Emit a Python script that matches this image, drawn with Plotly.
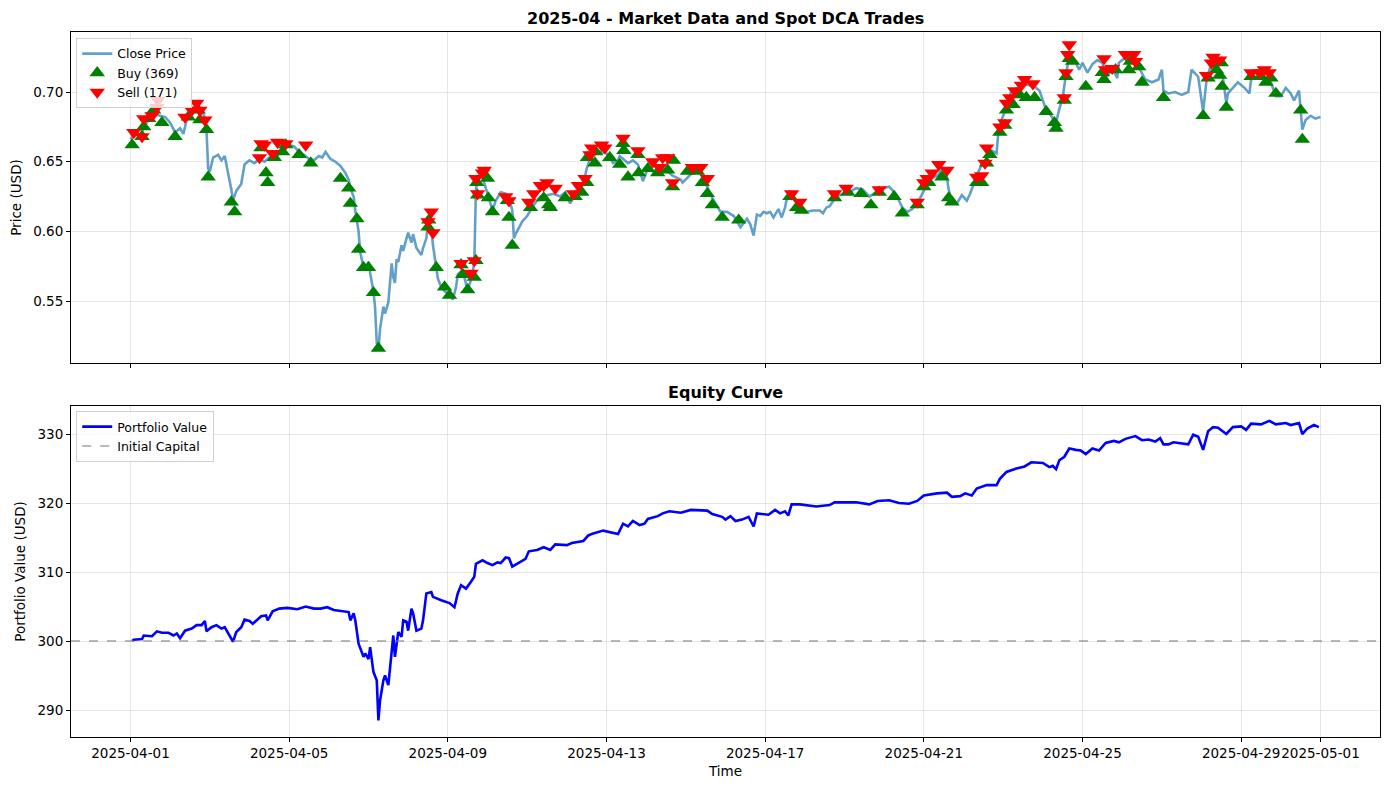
import pandas as pd
import plotly.graph_objects as go

START = pd.Timestamp("2025-04-01 00:00")

# ---- Close price (hours since 2025-04-01 00:00, price) ----
price_hours = [0, 3, 6, 9, 12, 15, 18, 21, 24, 27, 30, 32, 34, 37, 40, 43, 45, 46, 47, 48,
               50, 53, 55, 57, 59, 61, 62, 64, 67, 69, 72, 75, 78, 81, 84, 87, 90, 93, 96, 99,
               102, 105, 108, 111, 114, 116, 118, 121, 124, 127, 130, 132, 133, 135, 136, 138, 139, 141, 142, 144,
               145, 147, 148, 149, 150, 151, 153, 154, 156, 158, 159, 160, 161, 162, 164, 165, 167, 168, 170, 171,
               173, 176, 177, 179, 180, 182, 183, 185, 186, 188, 190, 193, 195, 197, 198, 200, 202, 204, 206, 208,
               209, 210, 212, 214, 216, 218, 219, 221, 224, 227, 229, 231, 232, 233, 235, 237, 240, 244, 248, 252,
               256, 260, 263, 266, 269, 272, 274, 276, 278, 281, 284, 288, 292, 295, 296, 301, 304, 307, 308, 310,
               313, 316, 320, 325, 328, 333, 334, 339, 343, 346, 349, 352, 357, 361, 365, 369, 373, 375, 377, 379,
               381, 383, 385, 387, 389, 392, 394, 396, 397, 399, 401, 405, 409, 413, 417, 419, 421, 423, 427, 431,
               435, 439, 443, 447, 451, 455, 459, 463, 465, 467, 470, 473, 477, 482, 485, 489, 491, 494, 495, 497,
               500, 502, 503, 506, 508, 512, 515, 520, 521, 524, 525, 527, 530, 533, 537, 540, 544, 547, 550, 554,
               557, 560, 562, 564, 566, 568, 571, 574, 576, 579, 582, 585, 588, 591, 594, 597, 598, 602, 606, 610,
               614, 618, 622, 624, 625, 628, 632, 636, 640, 642, 646, 649, 651, 654, 658, 661, 663, 664, 667, 670,
               674, 677, 678, 683, 687, 690, 693, 696, 699, 702, 704, 707, 709, 711, 714, 717, 720]
close_price = [0.666, 0.671, 0.669, 0.677, 0.681, 0.684, 0.683, 0.682, 0.678, 0.671, 0.674, 0.670, 0.680, 0.684, 0.688, 0.686, 0.682, 0.672, 0.645, 0.643,
               0.653, 0.655, 0.651, 0.654, 0.643, 0.630, 0.622, 0.629, 0.634, 0.648, 0.651, 0.649, 0.652, 0.650, 0.653, 0.652, 0.656, 0.660, 0.662, 0.661,
               0.657, 0.655, 0.652, 0.651, 0.654, 0.653, 0.657, 0.652, 0.650, 0.647, 0.642, 0.637, 0.631, 0.625, 0.615, 0.600, 0.585, 0.574, 0.572, 0.578,
               0.570, 0.557, 0.545, 0.520, 0.515, 0.530, 0.546, 0.541, 0.549, 0.577, 0.567, 0.563, 0.580, 0.578, 0.590, 0.586, 0.595, 0.599, 0.592, 0.598,
               0.588, 0.583, 0.588, 0.595, 0.606, 0.603, 0.590, 0.575, 0.566, 0.560, 0.557, 0.555, 0.551, 0.560, 0.569, 0.571, 0.567, 0.558, 0.565, 0.577,
               0.630, 0.637, 0.642, 0.635, 0.627, 0.620, 0.615, 0.622, 0.628, 0.627, 0.624, 0.615, 0.595, 0.598, 0.603, 0.607, 0.611, 0.619, 0.625, 0.626,
               0.627, 0.625, 0.628, 0.620, 0.628, 0.632, 0.634, 0.645, 0.652, 0.655, 0.657, 0.656, 0.649, 0.651, 0.654, 0.649, 0.651, 0.648, 0.644, 0.636,
               0.645, 0.643, 0.645, 0.643, 0.640, 0.637, 0.635, 0.641, 0.644, 0.640, 0.632, 0.624, 0.614, 0.614, 0.611, 0.603, 0.609, 0.605, 0.597, 0.612,
               0.611, 0.614, 0.613, 0.614, 0.610, 0.616, 0.610, 0.617, 0.623, 0.627, 0.623, 0.618, 0.614, 0.615, 0.615, 0.613, 0.617, 0.618, 0.625, 0.627,
               0.628, 0.631, 0.630, 0.625, 0.628, 0.631, 0.632, 0.627, 0.622, 0.617, 0.614, 0.616, 0.622, 0.634, 0.638, 0.641, 0.646, 0.639, 0.630, 0.622,
               0.620, 0.624, 0.626, 0.622, 0.627, 0.640, 0.648, 0.655, 0.658, 0.656, 0.670, 0.680, 0.689, 0.701, 0.703, 0.706, 0.705, 0.704, 0.701, 0.687,
               0.683, 0.678, 0.688, 0.696, 0.713, 0.725, 0.723, 0.716, 0.721, 0.714, 0.720, 0.723, 0.721, 0.711, 0.718, 0.710, 0.721, 0.725, 0.723, 0.718,
               0.709, 0.707, 0.709, 0.716, 0.701, 0.699, 0.700, 0.698, 0.700, 0.716, 0.711, 0.686, 0.708, 0.721, 0.714, 0.710, 0.692, 0.699, 0.703, 0.707,
               0.703, 0.699, 0.709, 0.711, 0.709, 0.707, 0.697, 0.697, 0.703, 0.699, 0.694, 0.701, 0.673, 0.680, 0.683, 0.681, 0.682]

# ---- Trades (hours, price) ----
buy_hours = [1, 7, 8, 11, 14, 19, 27, 35, 41, 42, 46, 47, 61, 63, 79, 82, 83, 87, 92, 94,
             102, 109, 127, 132, 133, 137, 138, 141, 144, 147, 150, 180, 180.5, 185, 190, 193, 200, 201, 204, 208,
             209, 209.5, 210, 216, 216.5, 219, 228, 229, 231, 242, 250, 253, 254, 263, 269, 273, 276, 276.5, 281, 281.5,
             290, 296, 298, 298.5, 301, 307, 307.5, 313, 319, 325, 328, 328.5, 337, 343, 346, 349, 352, 358, 368, 399,
             403, 406, 426, 434, 442, 448, 453, 462, 467, 476, 480, 483, 491, 495, 497, 512, 515, 518, 520, 526,
             529, 530, 534, 538, 542, 547, 554, 559, 560, 565, 566, 568, 570, 578, 588, 589, 596, 604, 605, 610,
             612, 625, 649, 652, 657, 660, 659, 660.5, 663, 678, 684, 687, 690, 693, 708, 709]
buy_price = [0.662, 0.668, 0.675, 0.681, 0.687, 0.678, 0.668, 0.682, 0.687, 0.680, 0.673, 0.639, 0.621, 0.614, 0.660, 0.642, 0.635, 0.653, 0.657, 0.662,
             0.655, 0.649, 0.638, 0.631, 0.620, 0.609, 0.587, 0.574, 0.574, 0.556, 0.516, 0.603, 0.608, 0.574, 0.560, 0.554, 0.576, 0.569, 0.558, 0.567,
             0.579, 0.635, 0.626, 0.638, 0.624, 0.614, 0.622, 0.610, 0.590, 0.617, 0.624, 0.619, 0.617, 0.624, 0.625, 0.628, 0.635, 0.653, 0.649, 0.657,
             0.653, 0.648, 0.663, 0.658, 0.639, 0.655, 0.642, 0.645, 0.642, 0.644, 0.632, 0.651, 0.643, 0.643, 0.635, 0.627, 0.619, 0.610, 0.608, 0.625,
             0.617, 0.615, 0.624, 0.628, 0.627, 0.619, 0.628, 0.625, 0.613, 0.619, 0.632, 0.635, 0.639, 0.624, 0.621, 0.635, 0.635, 0.649, 0.655, 0.671,
             0.676, 0.687, 0.691, 0.698, 0.696, 0.696, 0.686, 0.678, 0.674, 0.694, 0.711, 0.724, 0.722, 0.704, 0.714, 0.709, 0.716, 0.716, 0.722, 0.718,
             0.707, 0.696, 0.683, 0.710, 0.716, 0.721, 0.712, 0.704, 0.689, 0.711, 0.711, 0.707, 0.710, 0.699, 0.687, 0.666]

sell_hours = [2, 7, 8, 13, 16, 16.5, 33, 37, 40, 42, 45, 78, 79, 81, 86, 89, 94, 106, 180, 182,
              183, 200, 206, 208, 209, 210, 213, 214, 227, 229, 241, 244, 248, 250, 252, 257, 268, 271, 275, 278,
              279, 285, 287, 298, 307, 316, 320, 322, 325, 328, 340, 345, 349, 400, 405, 426, 433, 453, 476, 480,
              482, 485, 489, 494, 512, 515, 517, 518, 526, 529, 530, 532, 535, 539, 541, 546, 565, 566, 567, 568,
              589, 590, 594, 602, 607, 608, 651, 654, 655, 659, 678, 683, 686, 689]
sell_price = [0.671, 0.668, 0.681, 0.683, 0.689, 0.694, 0.682, 0.687, 0.692, 0.687, 0.680, 0.653, 0.663, 0.662, 0.656, 0.664, 0.663, 0.662, 0.607, 0.614,
              0.599, 0.577, 0.570, 0.579, 0.638, 0.627, 0.642, 0.644, 0.625, 0.622, 0.621, 0.627, 0.633, 0.633, 0.635, 0.631, 0.627, 0.633, 0.638, 0.655,
              0.660, 0.662, 0.660, 0.667, 0.658, 0.650, 0.646, 0.653, 0.653, 0.635, 0.646, 0.646, 0.638, 0.627, 0.621, 0.627, 0.631, 0.630, 0.621, 0.635,
              0.638, 0.642, 0.648, 0.644, 0.639, 0.640, 0.649, 0.660, 0.675, 0.678, 0.692, 0.696, 0.701, 0.705, 0.709, 0.706, 0.696, 0.714, 0.727, 0.734,
              0.724, 0.716, 0.717, 0.727, 0.727, 0.722, 0.712, 0.721, 0.725, 0.723, 0.714, 0.714, 0.716, 0.714]

n_buys = 369
n_sells = 171

# ---- Portfolio value (hours, USD) ----
equity_hours = [1, 2, 7, 8, 13, 16, 19, 23, 26, 28, 30, 33, 37, 40, 43, 45, 46, 49, 52, 55,
                57, 60, 62, 64, 67, 69, 72, 74, 76, 79, 82, 83, 86, 90, 95, 101, 106, 111, 115, 119,
                123, 127, 132, 133, 135, 136, 138, 141, 142, 144, 145, 147, 149, 150, 151, 153, 154, 156, 158, 159,
                160, 162, 164, 165, 167, 168, 170, 171, 173, 176, 177, 179, 182, 183, 188, 193, 196, 198, 200, 203,
                206, 208, 209, 213, 216, 219, 222, 224, 227, 229, 231, 235, 239, 241, 246, 250, 254, 257, 264, 267,
                274, 277, 280, 286, 291, 295, 298, 301, 304, 308, 311, 313, 319, 322, 326, 333, 339, 349, 352, 358,
                360, 363, 366, 370, 374, 377, 379, 383, 386, 390, 393, 396, 398, 400, 405, 415, 423, 426, 439, 447,
                452, 459, 465, 471, 476, 480, 488, 494, 497, 502, 505, 509, 512, 518, 524, 526, 530, 536, 541, 545,
                552, 556, 558, 560, 562, 565, 568, 572, 575, 578, 582, 586, 590, 595, 598, 602, 606, 608, 612, 616,
                620, 623, 625, 628, 631, 635, 640, 643, 646, 649, 652, 655, 658, 663, 667, 672, 675, 678, 684, 689,
                693, 699, 702, 707, 709, 712, 716, 719]
equity_value = [300.0, 300.2, 300.3, 300.8, 300.7, 301.4, 301.2, 301.2, 300.8, 301.1, 300.4, 301.5, 301.8, 302.3, 302.3, 302.9, 301.4, 302.0, 302.3, 301.8,
                302.0, 300.6, 299.9, 301.3, 302.0, 303.1, 302.9, 302.5, 303.0, 303.6, 303.7, 303.0, 304.3, 304.7, 304.8, 304.6, 305.0, 304.7, 304.7, 304.9,
                304.5, 304.4, 304.2, 303.0, 304.0, 303.0, 299.6, 297.7, 298.2, 297.4, 299.1, 295.5, 294.3, 288.5, 291.4, 294.3, 295.0, 293.6, 298.2, 300.8,
                297.7, 301.3, 300.6, 303.0, 302.8, 301.5, 304.7, 304.0, 301.5, 301.8, 303.0, 306.9, 307.1, 306.4, 305.9, 305.5, 304.9, 306.9, 308.1, 307.6,
                308.6, 309.3, 311.2, 311.7, 311.3, 311.0, 311.4, 311.3, 312.1, 312.0, 310.8, 311.4, 311.9, 313.0, 313.2, 313.6, 313.2, 314.0, 313.9, 314.2,
                314.5, 315.3, 315.6, 316.0, 315.7, 315.5, 317.0, 316.6, 317.4, 316.8, 317.0, 317.7, 318.1, 318.5, 318.8, 318.6, 319.0, 318.9, 318.4, 318.0,
                317.6, 318.1, 317.4, 317.6, 318.0, 316.6, 318.5, 318.4, 318.3, 319.0, 318.5, 318.8, 318.2, 319.8, 319.8, 319.5, 319.7, 320.1, 320.1, 319.8,
                320.3, 320.4, 320.0, 319.9, 320.3, 321.1, 321.4, 321.5, 320.9, 321.0, 321.4, 321.1, 322.1, 322.6, 322.6, 323.5, 324.5, 325.0, 325.3, 325.9,
                325.8, 325.2, 325.4, 324.9, 326.2, 326.7, 327.9, 327.7, 327.6, 327.1, 327.9, 327.6, 328.7, 329.0, 328.8, 329.3, 329.5, 329.7, 329.1, 329.2,
                328.9, 329.4, 328.5, 328.5, 328.8, 328.7, 328.5, 329.9, 329.6, 327.7, 330.4, 331.0, 330.9, 330.0, 331.0, 331.1, 330.6, 331.5, 331.4, 331.9,
                331.4, 331.6, 331.3, 331.6, 330.0, 330.8, 331.3, 331.0]

initial_capital = 300.0

tick_dates = ["2025-04-01", "2025-04-05", "2025-04-09", "2025-04-13", "2025-04-17",
              "2025-04-21", "2025-04-25", "2025-04-29", "2025-05-01"]
price_ticks = [0.55, 0.60, 0.65, 0.70]
equity_ticks = [290, 300, 310, 320, 330]


def to_time(hours):
    return [START + pd.Timedelta(hours=h) for h in hours]


FONT = "DejaVu Sans"
GRID = "rgba(176,176,176,0.3)"

fig = go.Figure()

fig.add_trace(go.Scatter(x=to_time(price_hours), y=close_price, mode="lines",
                         name="Close Price", line=dict(color="rgba(31,119,180,0.7)", width=2.6),
                         xaxis="x", yaxis="y", legend="legend"))
fig.add_trace(go.Scatter(x=to_time(buy_hours), y=buy_price, mode="markers",
                         name=f"Buy ({n_buys})",
                         marker=dict(symbol="triangle-up", size=13.5, color="green",
                                     line=dict(width=0)),
                         xaxis="x", yaxis="y", legend="legend"))
fig.add_trace(go.Scatter(x=to_time(sell_hours), y=sell_price, mode="markers",
                         name=f"Sell ({n_sells})",
                         marker=dict(symbol="triangle-down", size=13.5, color="red",
                                     line=dict(width=0)),
                         xaxis="x", yaxis="y", legend="legend"))

fig.add_trace(go.Scatter(x=to_time(equity_hours), y=equity_value, mode="lines",
                         name="Portfolio Value", line=dict(color="blue", width=2.6),
                         xaxis="x2", yaxis="y2", legend="legend2"))
t_range = [START - pd.Timedelta(hours=36), START + pd.Timedelta(hours=756)]
fig.add_trace(go.Scatter(x=t_range, y=[initial_capital, initial_capital], mode="lines",
                         name="Initial Capital",
                         line=dict(color="rgba(128,128,128,0.55)", width=2, dash="dash"),
                         xaxis="x2", yaxis="y2", legend="legend2"))

axis_common = dict(showline=True, linecolor="black", linewidth=1, mirror=True,
                   ticks="outside", ticklen=4, tickcolor="black",
                   showgrid=True, gridcolor=GRID, gridwidth=1, zeroline=False,
                   tickfont=dict(family=FONT, size=13.5, color="black"))

fig.update_layout(
    width=1389, height=790,
    margin=dict(l=71, r=9, t=32, b=53),
    paper_bgcolor="white", plot_bgcolor="white",
    font=dict(family=FONT, color="black"),
    showlegend=True,
    xaxis=dict(domain=[0, 1], anchor="y", range=t_range,
               tickvals=tick_dates, showticklabels=False, **axis_common),
    yaxis=dict(domain=[0.5305, 1], anchor="x", range=[0.5055, 0.7431],
               tickvals=price_ticks, tickformat=".2f",
               title=dict(text="Price (USD)", font=dict(family=FONT, size=13.5), standoff=8),
               **axis_common),
    xaxis2=dict(domain=[0, 1], anchor="y2", range=t_range, matches="x",
                tickvals=tick_dates, ticktext=tick_dates, tickangle=0,
                title=dict(text="Time", font=dict(family=FONT, size=13.5), standoff=6),
                **axis_common),
    yaxis2=dict(domain=[0, 0.4695], anchor="x2", range=[286.09, 334.06],
                tickvals=equity_ticks,
                title=dict(text="Portfolio Value (USD)", font=dict(family=FONT, size=13.5), standoff=8),
                **axis_common),
    legend=dict(x=0.004, y=0.9915, xanchor="left", yanchor="top",
                bgcolor="rgba(255,255,255,0.8)", bordercolor="#d0d0d0", borderwidth=1,
                font=dict(family=FONT, size=12.5), tracegroupgap=0),
    legend2=dict(x=0.004, y=0.4624, xanchor="left", yanchor="top",
                 bgcolor="rgba(255,255,255,0.8)", bordercolor="#d0d0d0", borderwidth=1,
                 font=dict(family=FONT, size=12.5), tracegroupgap=0),
    annotations=[
        dict(text="<b>2025-04 - Market Data and Spot DCA Trades</b>", xref="paper", yref="paper",
             x=0.5, y=1.0, yshift=14, xanchor="center", yanchor="middle", showarrow=False,
             font=dict(family=FONT, size=16, color="black")),
        dict(text="<b>Equity Curve</b>", xref="paper", yref="paper",
             x=0.5, y=0.4695, yshift=14, xanchor="center", yanchor="middle", showarrow=False,
             font=dict(family=FONT, size=16, color="black")),
    ],
)

fig.write_html("out.html")
